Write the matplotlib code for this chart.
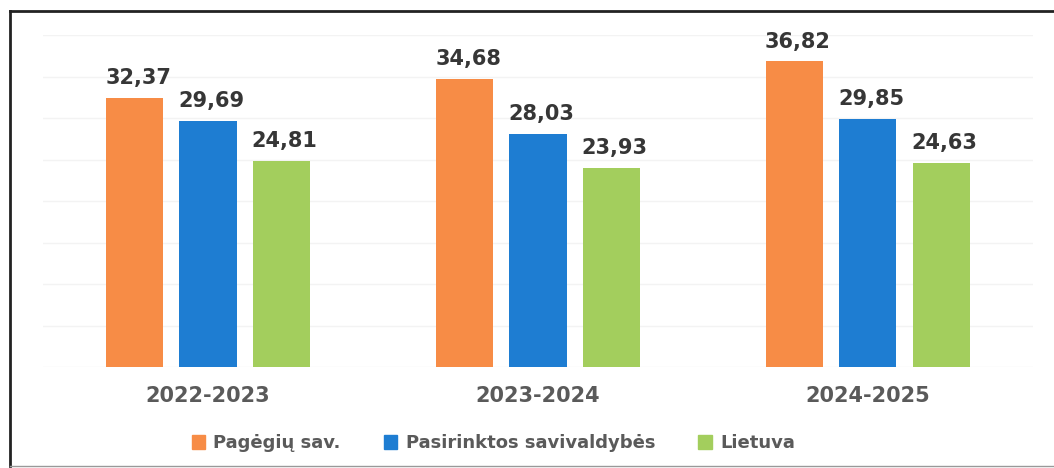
import matplotlib.pyplot as plt
import numpy as np
from matplotlib.patches import Rectangle
from matplotlib.lines import Line2D

periods = ["2022-2023", "2023-2024", "2024-2025"]
series_names = ["Pagėgių sav.", "Pasirinktos savivaldybės", "Lietuva"]
pagegiu = [32.37, 34.68, 36.82]
pasirinktos = [29.69, 28.03, 29.85]
lietuva = [24.81, 23.93, 24.63]

colors = ["#F78C46", "#1E7DD2", "#A3CE5D"]
label_color = "#363636"
text_color = "#5a5a5a"

fig = plt.figure(figsize=(10.54, 4.68), dpi=100)
ax = fig.add_axes([0.0408, 0.2158, 0.9392, 0.7092])

x = np.arange(len(periods))
width = 0.173
step = 0.222

for i, (vals, col) in enumerate(zip([pagegiu, pasirinktos, lietuva], colors)):
    pos = x + (i - 1) * step
    ax.bar(pos, vals, width, color=col, zorder=2)
    for xp, v in zip(pos, vals):
        ax.text(xp + 0.01, v + 1.2, f"{v:.2f}".replace(".", ","), ha="center", va="bottom",
                fontsize=15, fontweight="bold", color=label_color)

ax.set_xlim(-0.5, 2.5)
ax.set_ylim(0, 40)
ax.set_yticks(np.arange(0, 41, 5))
ax.yaxis.grid(True, color="#f3f3f3", linewidth=1, zorder=0)
ax.set_axisbelow(True)
ax.tick_params(left=False, bottom=False, labelleft=False)
ax.set_xticks(x)
ax.set_xticklabels(periods, fontsize=15, fontweight="bold", color=text_color)
ax.tick_params(axis="x", pad=10)
for s in ax.spines.values():
    s.set_visible(False)

handles = [Rectangle((0, 0), 1, 1, color=c) for c in colors]
leg = fig.legend(handles, series_names, loc="center", bbox_to_anchor=(0.468, 0.053), ncol=3,
                 frameon=False, handlelength=0.75, handleheight=0.75, handletextpad=0.45,
                 columnspacing=2.4, prop={"size": 13, "weight": "bold"})
for t in leg.get_texts():
    t.set_color(text_color)

# scanned frame around the chart
fig.add_artist(Line2D([0.0095, 0.0095], [0.004, 0.977], color="#222222", linewidth=2))
fig.add_artist(Line2D([0.0095, 1.0], [0.977, 0.977], color="#222222", linewidth=2))
fig.add_artist(Line2D([0.0095, 1.0], [0.004, 0.004], color="#999999", linewidth=1))

fig.savefig("out.png", dpi=100)
